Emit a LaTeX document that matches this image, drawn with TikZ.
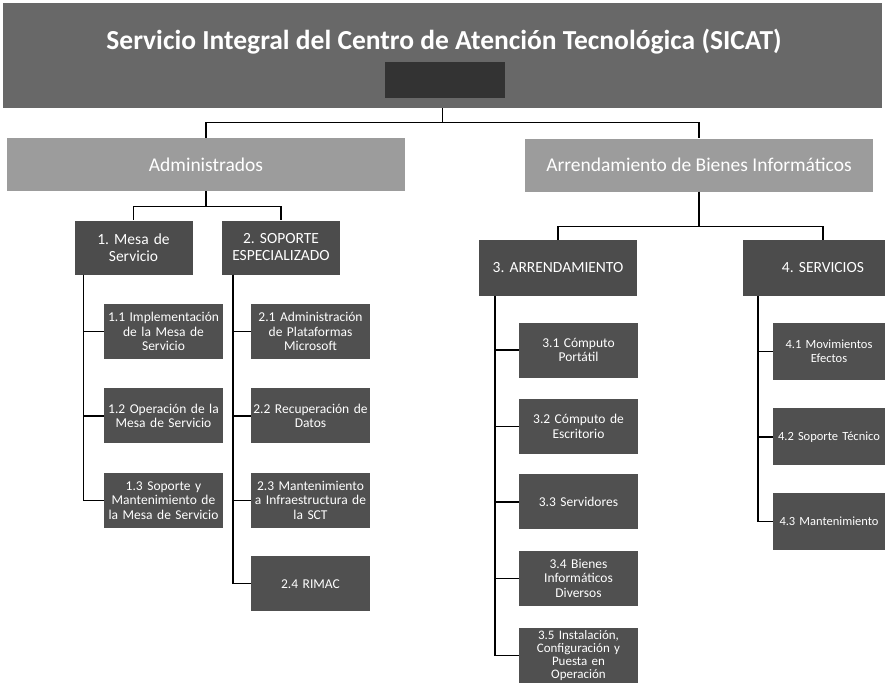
\documentclass[tikz,border=0pt]{standalone}
\usepackage{fontspec}
\setmainfont{Carlito}
\usetikzlibrary{calc}
\usetikzlibrary{positioning,shapes}
\frenchspacing

\definecolor{bannergray}{HTML}{686868}
\definecolor{areagray}{HTML}{9C9C9C}
\definecolor{unitgray}{HTML}{4C4C4C}
\definecolor{taskgray}{HTML}{505050}
\definecolor{dirgray}{HTML}{333333}

\tikzstyle{line}=[-, line width=1.4pt, black]
\tikzstyle{area}=[rectangle, fill=areagray, text=white, minimum height=53pt,
		inner sep=2pt, font=\fontsize{19.5}{21}\selectfont]
\tikzstyle{unit}=[rectangle, fill=unitgray, text=white, text width=116pt,
		align=center, minimum height=54pt, inner sep=1pt,
		font=\fontsize{15.5}{17}\selectfont]
\tikzstyle{task}=[rectangle, fill=taskgray, text=white, text width=119pt,
		align=center, minimum height=55pt, inner sep=0pt,
		font=\fontsize{13.5}{14.5}\selectfont]

\begin{document}
\begin{tikzpicture}[x=1pt, y=-1pt]

  \clip (0,0) rectangle (885,686);
  \fill[white] (0,0) rectangle (885,686);

  % encabezado
  \node (Ban) [rectangle, fill=bannergray, minimum width=879pt,
  		minimum height=105pt] at (442.5,55.5) {};
  \node (Tit) [text=white, font=\bfseries\fontsize{27.5}{29}\selectfont]
  		at (444,42) {Servicio Integral del Centro de Atención Tecnológica (SICAT)};
  \node (Dir) [rectangle, fill=dirgray, minimum width=120pt,
  		minimum height=36pt] at (445,80) {};

  % nivel 1
  \node (Adm) [area, minimum width=398pt] at (206,164.5) {Administrados};
  \node (Arr) [area, minimum width=348pt] at (699,165)
  		{Arrendamiento de Bienes Informáticos};

  \draw[line] (Ban.south) -- ++(0,14) -| (Adm.north);
  \draw[line] (Ban.south) -- ++(0,14) -| (Arr.north);

  % nivel 2
  \node (Mes) [unit] at (133.5,247.5) {1. Mesa de\\Servicio};
  \node (Sop) [unit] at (281,247.5) {2. SOPORTE\\ESPECIALIZADO};
  \node (Ard) [unit, text width=156pt, minimum height=56pt] at (558,268)
  		{3. ARRENDAMIENTO};
  \node (Ser) [unit, text width=158pt, minimum height=56pt] at (823,268)
  		{4. SERVICIOS};

  \draw[line] (Adm.south) -- ++(0,15) -| (Mes.north);
  \draw[line] (Adm.south) -- ++(0,15) -| (Sop.north);
  \draw[line] (Arr.south) -- ++(0,35) -| (Ard.north);
  \draw[line] (Arr.south) -- ++(0,35) -| (Ser.north);

  % 1. Mesa de Servicio
  \node (M1) [task] at (163.5,331.5) {1.1 Implementación\\de la Mesa de\\Servicio};
  \node (M2) [task, below=29pt of M1] {1.2 Operación de la\\Mesa de Servicio};
  \node (M3) [task, below=29pt of M2] {1.3 Soporte y\\Mantenimiento de\\la Mesa de Servicio};

  % 2. Soporte especializado
  \node (S1) [task] at (310.5,331.5) {2.1 Administración\\de Plataformas\\Microsoft};
  \node (S2) [task, below=29pt of S1] {2.2 Recuperación de\\Datos};
  \node (S3) [task, below=29pt of S2] {2.3 Mantenimiento\\a Infraestructura de\\la SCT};
  \node (S4) [task, below=28pt of S3] {2.4 RIMAC};

  % 3. Arrendamiento
  \node (A1) [task] at (578.5,350) {3.1 Cómputo\\Portátil};
  \node (A2) [task, below=21pt of A1] {3.2 Cómputo de\\Escritorio};
  \node (A3) [task, below=20pt of A2] {3.3 Servidores};
  \node (A4) [task, below=21pt of A3] {3.4 Bienes\\Informáticos\\Diversos};
  \node (A5) [task, below=22pt of A4, font=\fontsize{13}{13.2}\selectfont]
  		{3.5 Instalación,\\Configuración y\\Puesta en\\Operación};

  % 4. Servicios (cortados en el borde)
  \tikzstyle{edgetask}=[task, text width=112pt, minimum height=57pt,
  		font=\fontsize{12.5}{14}\selectfont]
  \node (V1) [edgetask] at (829,351.5) {4.1 Movimientos\\Efectos};
  \node (V2) [edgetask, below=28pt of V1] {4.2 Soporte Técnico};
  \node (V3) [edgetask, below=27pt of V2] {4.3 Mantenimiento};

  \draw[line] ([xshift=9pt]Mes.south west) |- (M1.west);
  \draw[line] ([xshift=9pt]Mes.south west) |- (M2.west);
  \draw[line] ([xshift=9pt]Mes.south west) |- (M3.west);

  \draw[line] ([xshift=11pt]Sop.south west) |- (S1.west);
  \draw[line] ([xshift=11pt]Sop.south west) |- (S2.west);
  \draw[line] ([xshift=11pt]Sop.south west) |- (S3.west);
  \draw[line] ([xshift=11pt]Sop.south west) |- (S4.west);

  \draw[line] ([xshift=16pt]Ard.south west) |- (A1.west);
  \draw[line] ([xshift=16pt]Ard.south west) |- (A2.west);
  \draw[line] ([xshift=16pt]Ard.south west) |- (A3.west);
  \draw[line] ([xshift=16pt]Ard.south west) |- (A4.west);
  \draw[line] ([xshift=16pt]Ard.south west) |- (A5.west);

  \draw[line] ([xshift=15pt]Ser.south west) |- (V1.west);
  \draw[line] ([xshift=15pt]Ser.south west) |- (V2.west);
  \draw[line] ([xshift=15pt]Ser.south west) |- (V3.west);

\end{tikzpicture}
\end{document}
